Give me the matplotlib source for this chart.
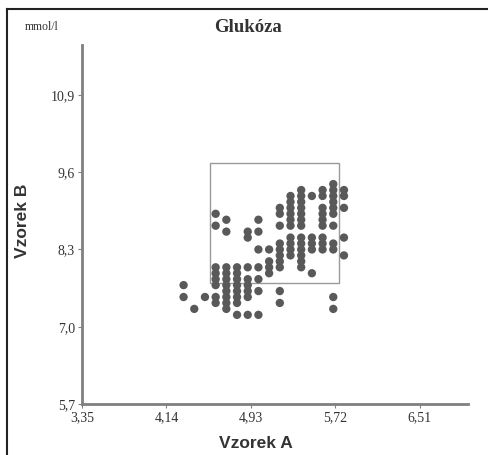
import matplotlib
matplotlib.use("Agg")
import matplotlib.pyplot as plt
from matplotlib.patches import Rectangle
from matplotlib.lines import Line2D

# hodnoty (mmol/l), body jsou v krocích po 0,1
sloupce_a = [4.3, 4.4, 4.5, 4.6, 4.7, 4.8, 4.9, 5.0, 5.1, 5.2, 5.3, 5.4, 5.5, 5.6, 5.7, 5.8]
hodnoty_b = [
    [7.7, 7.5],
    [7.3],
    [7.5],
    [8.9, 8.7, 8.0, 7.9, 7.8, 7.7, 7.5, 7.4],
    [8.8, 8.6, 8.0, 7.9, 7.8, 7.7, 7.6, 7.5, 7.4, 7.3],
    [8.0, 7.9, 7.8, 7.7, 7.6, 7.5, 7.4, 7.2],
    [8.6, 8.5, 8.0, 7.8, 7.7, 7.6, 7.5, 7.2],
    [8.8, 8.6, 8.3, 8.0, 7.8, 7.6, 7.2],
    [8.3, 8.1, 8.0, 7.9],
    [9.0, 8.9, 8.7, 8.4, 8.3, 8.2, 8.1, 8.0, 7.6, 7.4],
    [9.2, 9.1, 9.0, 8.9, 8.8, 8.7, 8.5, 8.4, 8.3, 8.2],
    [9.3, 9.2, 9.1, 9.0, 8.9, 8.8, 8.7, 8.5, 8.4, 8.3, 8.2, 8.1, 8.0],
    [9.2, 8.5, 8.4, 8.3, 7.9],
    [9.3, 9.2, 9.0, 8.9, 8.8, 8.7, 8.5, 8.4, 8.3],
    [9.4, 9.3, 9.2, 9.1, 9.0, 8.9, 8.7, 8.4, 8.3, 7.5, 7.3],
    [9.3, 9.2, 9.0, 8.5, 8.2],
]

# referenční rozsah (obdélník)
rozsah_a = [4.55, 5.75]
rozsah_b = [7.74, 9.75]

x_ticky = [3.35, 4.14, 4.93, 5.72, 6.51]
x_popisky = ["3,35", "4,14", "4,93", "5,72", "6,51"]
y_ticky = [5.7, 7.0, 8.3, 9.6, 10.9]
y_popisky = ["5,7", "7,0", "8,3", "9,6", "10,9"]

xs = []
ys = []
for a, sl in zip(sloupce_a, hodnoty_b):
    for b in sl:
        xs.append(a)
        ys.append(b)

fig = plt.figure(figsize=(4.88, 4.55), dpi=100)
ax = fig.add_axes([82 / 488, 1 - 404 / 455, 386 / 488, 359 / 455])

ax.scatter(xs, ys, s=36, color="#595959", edgecolors="none", zorder=3)
ax.add_patch(Rectangle((rozsah_a[0], rozsah_b[0]), rozsah_a[1] - rozsah_a[0],
                       rozsah_b[1] - rozsah_b[0], fill=False,
                       edgecolor="#9a9a9a", linewidth=1.0, zorder=2))

ax.set_xlim(3.35, 6.96)
ax.set_ylim(5.7, 11.74)
ax.set_xticks(x_ticky)
ax.set_xticklabels(x_popisky)
ax.set_yticks(y_ticky)
ax.set_yticklabels(y_popisky)

for s in ["top", "right"]:
    ax.spines[s].set_visible(False)
for s in ["left", "bottom"]:
    ax.spines[s].set_color("#808080")
    ax.spines[s].set_linewidth(2.0)

for lab in ax.get_xticklabels() + ax.get_yticklabels():
    lab.set_fontfamily("Liberation Serif")
    lab.set_fontsize(10)
    lab.set_color("#333333")
ax.tick_params(axis="both", length=3, width=0.8, color="#808080", pad=2)

ax.set_xlabel("Vzorek A", fontsize=12.5, fontweight="bold",
              family="Liberation Sans", color="#333333")
ax.set_ylabel("Vzorek B", fontsize=12.5, fontweight="bold",
              family="Liberation Sans", color="#333333")
ax.xaxis.set_label_coords(0.451, -0.088)
ax.yaxis.set_label_coords(-0.135, 0.51)

fig.text(248 / 488, 1 - 27 / 455, "Glukóza", ha="center", va="center",
         fontsize=13.5, fontweight="bold", family="Liberation Serif", color="#333333")
fig.text(25 / 488, 1 - 27 / 455, "mmol/l", ha="left", va="center",
         fontsize=8.5, family="Liberation Serif", color="#333333")

# rámeček kolem obrázku (vlevo a nahoře)
fig.add_artist(Line2D([7 / 488, 7 / 488], [0, 1 - 9 / 455], transform=fig.transFigure,
                      color="#222222", linewidth=1.5))
fig.add_artist(Line2D([7 / 488, 1], [1 - 9 / 455, 1 - 9 / 455], transform=fig.transFigure,
                      color="#222222", linewidth=1.5))

fig.savefig("out.png", dpi=100)
